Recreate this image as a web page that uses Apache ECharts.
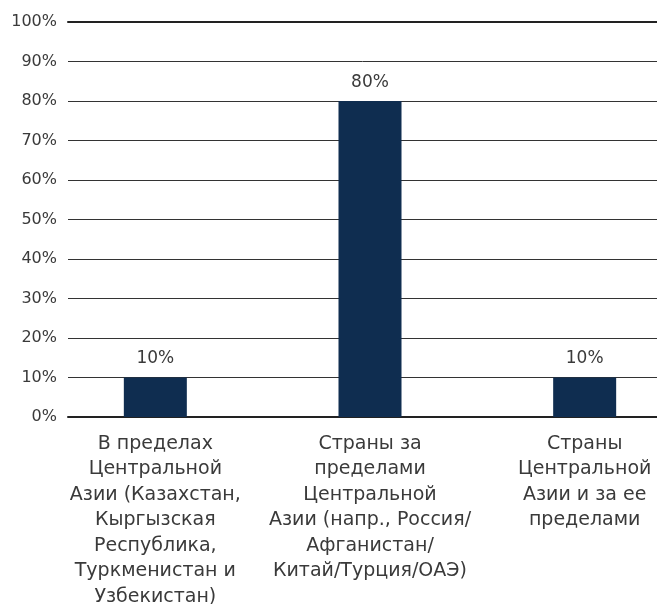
<!DOCTYPE html>
<html>
<head>
<meta charset="utf-8">
<script src="https://cdn.jsdelivr.net/npm/echarts@6/dist/echarts.min.js"></script>
<style>
html,body{margin:0;padding:0;background:#fff;}
#chart{width:657px;height:604px;}
</style>
</head>
<body>
<div id="chart"></div>
<script>
var categories = [
    'В пределах\nЦентральной\nАзии (Казахстан,\nКыргызская\nРеспублика,\nТуркменистан и\nУзбекистан)',
    'Страны за\nпределами\nЦентральной\nАзии (напр., Россия/\nАфганистан/\nКитай/Турция/ОАЭ)',
    'Страны\nЦентральной\nАзии и за ее\nпределами'
];
var values = [10, 80, 10];

var myChart = echarts.init(document.getElementById('chart'));
var font = 'DejaVu Sans';

var option = {
    backgroundColor: '#fff',
    animation: false,
    grid: [
        // grid for lines and y labels
        {left: 68, right: 0, top: 22, bottom: 187, outerBoundsMode: 'none'},
        // grid for bars (wider so bars land where they are in the picture)
        {left: 48, width: 644, top: 22, bottom: 187, outerBoundsMode: 'none'}
    ],
    xAxis: [
        {
            type: 'category', gridIndex: 0, data: ['a'], position: 'bottom',
            axisLine: {show: true, lineStyle: {color: '#222', width: 2}},
            axisTick: {show: false}, axisLabel: {show: false}
        },
        {
            type: 'category', gridIndex: 0, data: ['a'], position: 'top',
            axisLine: {show: true, lineStyle: {color: '#222', width: 2}},
            axisTick: {show: false}, axisLabel: {show: false}
        },
        {
            type: 'category', gridIndex: 1, data: categories,
            axisLine: {show: false}, axisTick: {show: false},
            axisLabel: {
                interval: 0, margin: 14,
                color: '#3a3a3a', fontSize: 19, lineHeight: 25.5,
                fontFamily: font, align: 'center'
            }
        }
    ],
    yAxis: [
        {
            type: 'value', gridIndex: 0, min: 0, max: 100, interval: 10,
            axisLine: {show: false}, axisTick: {show: false},
            axisLabel: {
                formatter: '{value}%', color: '#3a3a3a', fontSize: 16,
                fontFamily: font, margin: 11
            },
            splitLine: {lineStyle: {color: '#333', width: 1}}
        },
        {
            type: 'value', gridIndex: 1, min: 0, max: 100, interval: 10,
            axisLine: {show: false}, axisTick: {show: false},
            axisLabel: {show: false}, splitLine: {show: false}
        }
    ],
    series: [{
        type: 'bar',
        xAxisIndex: 2, yAxisIndex: 1,
        data: values,
        barWidth: 63,
        itemStyle: {color: '#0f2d50'},
        label: {
            show: true, position: 'top', distance: 10,
            formatter: '{c}%', color: '#3a3a3a', fontSize: 17, fontFamily: font
        }
    }]
};

myChart.setOption(option);
</script>
</body>
</html>
